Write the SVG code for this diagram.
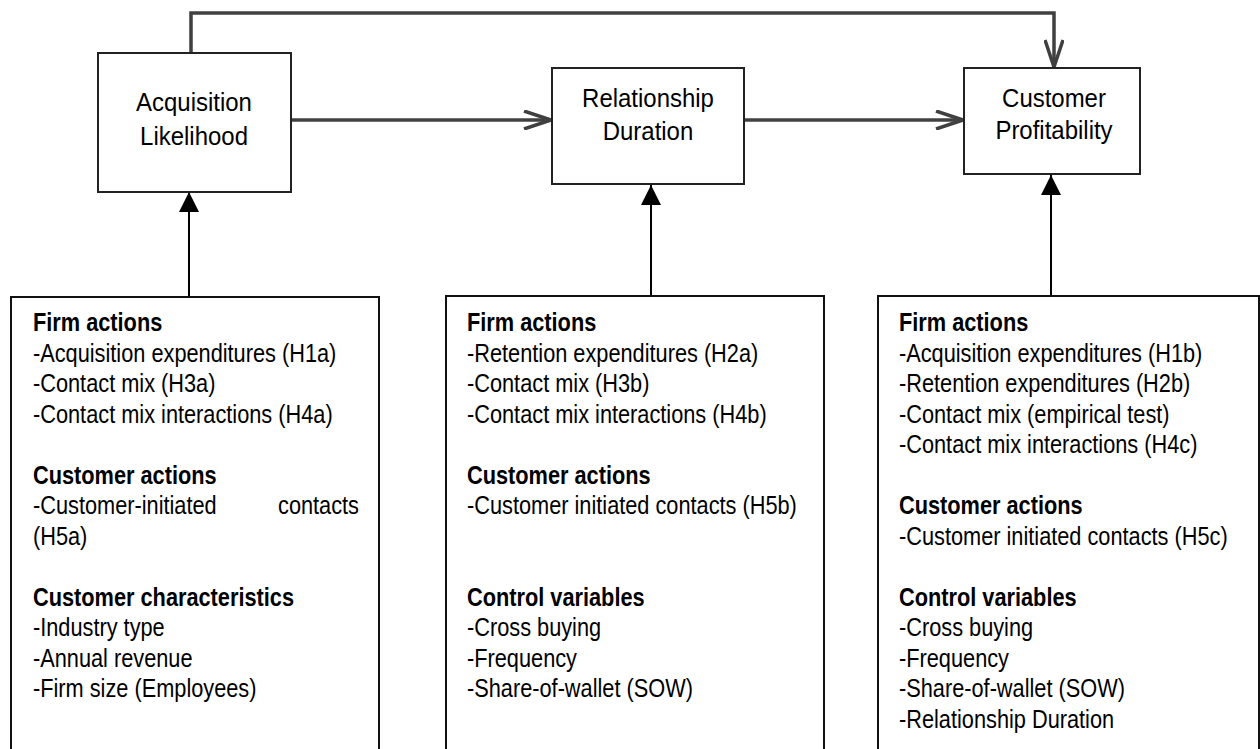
<svg xmlns="http://www.w3.org/2000/svg" width="1260" height="749" viewBox="0 0 1260 749">
<style>
.box{fill:#fff;stroke:#222;stroke-width:2}
.bbox{fill:#fff;stroke:#111;stroke-width:2}
.h{font-family:"Liberation Sans",Arial,sans-serif;font-size:25.5px;fill:#000;text-anchor:middle}
.t{font-family:"Liberation Sans",Arial,sans-serif;font-size:25px;fill:#000}
.b{font-weight:bold}
.c1{fill:none;stroke:#404040;stroke-width:3.5}
.c2{fill:none;stroke:#000;stroke-width:2}
</style>
<defs>
<marker id="open" viewBox="0 0 30 20" refX="28" refY="10" markerWidth="30" markerHeight="20" markerUnits="userSpaceOnUse" orient="auto"><path d="M1,1 L28,10 L1,19" fill="none" stroke="#404040" stroke-width="3.5"/></marker>
<marker id="tri" viewBox="0 0 20 20" refX="20" refY="10" markerWidth="20" markerHeight="20" markerUnits="userSpaceOnUse" orient="auto"><path d="M0,0 L20,10 L0,20 Z" fill="#000"/></marker>
</defs>
<rect width="1260" height="749" fill="#fff"/>
<g id="connectors">
<path class="c1" d="M191,53 V13 H1054 V67" marker-end="url(#open)"/>
<path class="c1" d="M292,120 H551" marker-end="url(#open)"/>
<path class="c1" d="M745,120 H963" marker-end="url(#open)"/>
<path class="c2" d="M189,297 V192" marker-end="url(#tri)"/>
<path class="c2" d="M651,296 V185" marker-end="url(#tri)"/>
<path class="c2" d="M1051,296 V175" marker-end="url(#tri)"/>
</g>
<g id="acquisition">
<rect class="box" x="98" y="53" width="193" height="139"/>
<text class="h" transform="translate(194,111) scale(0.94,1)">Acquisition</text>
<text class="h" transform="translate(194,145) scale(0.94,1)">Likelihood</text>
</g>
<g id="duration">
<rect class="box" x="552" y="68" width="192" height="116"/>
<text class="h" transform="translate(648,107) scale(0.94,1)">Relationship</text>
<text class="h" transform="translate(648,140) scale(0.94,1)">Duration</text>
</g>
<g id="profitability">
<rect class="box" x="964" y="68" width="176" height="106"/>
<text class="h" transform="translate(1054,107) scale(0.94,1)">Customer</text>
<text class="h" transform="translate(1054,139) scale(0.94,1)">Profitability</text>
</g>
<g id="drivers-acquisition">
<rect class="bbox" x="11" y="297" width="368" height="470"/>
<text class="t b" transform="translate(33,331) scale(0.87,1)">Firm actions</text>
<text class="t" transform="translate(33,361.5) scale(0.87,1)">-Acquisition expenditures (H1a)</text>
<text class="t" transform="translate(33,392) scale(0.87,1)">-Contact mix (H3a)</text>
<text class="t" transform="translate(33,422.5) scale(0.87,1)">-Contact mix interactions (H4a)</text>
<text class="t b" transform="translate(33,483.5) scale(0.87,1)">Customer actions</text>
<text class="t" transform="translate(33,514) scale(0.87,1)">-Customer-initiated</text>
<text class="t" text-anchor="end" transform="translate(359,514) scale(0.87,1)">contacts</text>
<text class="t" transform="translate(33,544.5) scale(0.87,1)">(H5a)</text>
<text class="t b" transform="translate(33,605.5) scale(0.87,1)">Customer characteristics</text>
<text class="t" transform="translate(33,636) scale(0.87,1)">-Industry type</text>
<text class="t" transform="translate(33,666.5) scale(0.87,1)">-Annual revenue</text>
<text class="t" transform="translate(33,697) scale(0.87,1)">-Firm size (Employees)</text>
</g>
<g id="drivers-duration">
<rect class="bbox" x="446" y="296" width="378" height="470"/>
<text class="t b" transform="translate(467,331) scale(0.87,1)">Firm actions</text>
<text class="t" transform="translate(467,361.5) scale(0.87,1)">-Retention expenditures (H2a)</text>
<text class="t" transform="translate(467,392) scale(0.87,1)">-Contact mix (H3b)</text>
<text class="t" transform="translate(467,422.5) scale(0.87,1)">-Contact mix interactions (H4b)</text>
<text class="t b" transform="translate(467,483.5) scale(0.87,1)">Customer actions</text>
<text class="t" transform="translate(467,514) scale(0.87,1)">-Customer initiated contacts (H5b)</text>
<text class="t b" transform="translate(467,605.5) scale(0.87,1)">Control variables</text>
<text class="t" transform="translate(467,636) scale(0.87,1)">-Cross buying</text>
<text class="t" transform="translate(467,666.5) scale(0.87,1)">-Frequency</text>
<text class="t" transform="translate(467,697) scale(0.87,1)">-Share-of-wallet (SOW)</text>
</g>
<g id="drivers-profitability">
<rect class="bbox" x="878" y="296" width="381" height="470"/>
<text class="t b" transform="translate(899,331) scale(0.87,1)">Firm actions</text>
<text class="t" transform="translate(899,361.5) scale(0.87,1)">-Acquisition expenditures (H1b)</text>
<text class="t" transform="translate(899,392) scale(0.87,1)">-Retention expenditures (H2b)</text>
<text class="t" transform="translate(899,422.5) scale(0.87,1)">-Contact mix (empirical test)</text>
<text class="t" transform="translate(899,453) scale(0.87,1)">-Contact mix interactions (H4c)</text>
<text class="t b" transform="translate(899,514) scale(0.87,1)">Customer actions</text>
<text class="t" transform="translate(899,544.5) scale(0.87,1)">-Customer initiated contacts (H5c)</text>
<text class="t b" transform="translate(899,605.5) scale(0.87,1)">Control variables</text>
<text class="t" transform="translate(899,636) scale(0.87,1)">-Cross buying</text>
<text class="t" transform="translate(899,666.5) scale(0.87,1)">-Frequency</text>
<text class="t" transform="translate(899,697) scale(0.87,1)">-Share-of-wallet (SOW)</text>
<text class="t" transform="translate(899,727.5) scale(0.87,1)">-Relationship Duration</text>
</g>
</svg>
